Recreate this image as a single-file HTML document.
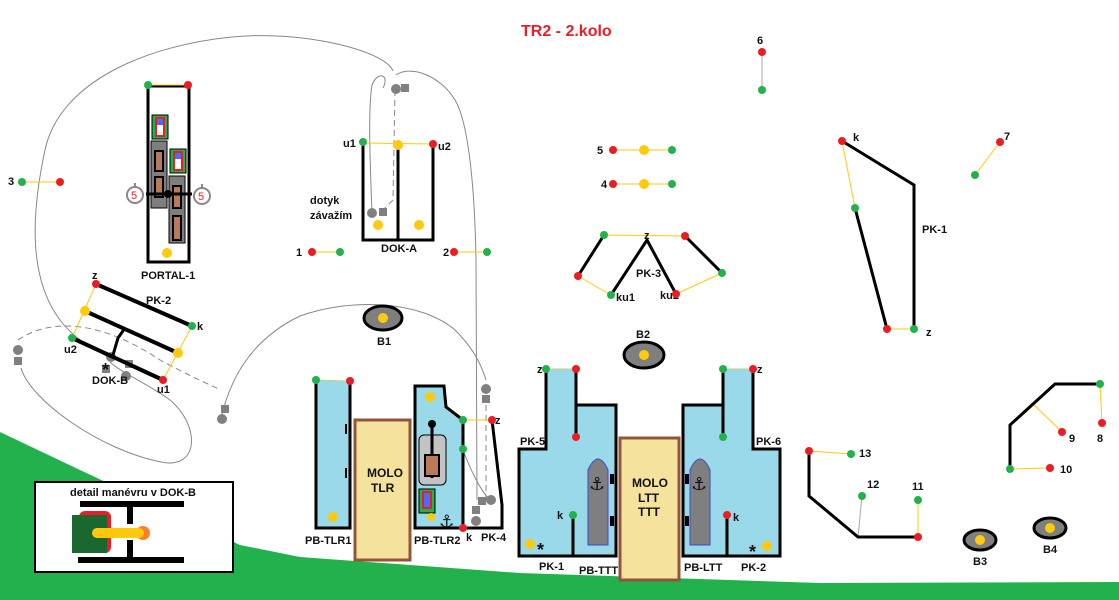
<!DOCTYPE html>
<html><head><meta charset="utf-8"><style>
html,body{margin:0;padding:0;background:#fff}
svg{display:block;font-size:11px}
text{font-family:"Liberation Sans","DejaVu Sans",sans-serif;font-weight:bold;fill:#111}
</style></head><body>
<svg width="1119" height="600" viewBox="0 0 1119 600" xmlns="http://www.w3.org/2000/svg">
<polygon points="0,432 80,470 240,545 300,557 520,573 820,583 1119,582 1119,600 0,600" fill="#22b14c"/>
<!-- detail box -->
<rect x="35" y="482" width="198" height="90" fill="#fff" stroke="#000" stroke-width="2"/>
<text x="70" y="496" style="font-size:11px">detail manévru v DOK-B</text>
<rect x="80" y="501" width="104" height="6" fill="#000"/>
<rect x="78" y="557" width="106" height="6" fill="#000"/>
<rect x="127" y="504" width="6" height="20" fill="#000"/>
<rect x="127" y="540" width="6" height="20" fill="#000"/>
<rect x="79" y="511" width="32" height="42" rx="6" fill="#ed1c24"/>
<rect x="72" y="515" width="35" height="38" fill="#1a6830"/>
<circle cx="143" cy="533" r="7" fill="#ff7f27"/>
<rect x="92" y="528" width="52" height="10" rx="5" fill="#ffc90e"/>

<!-- gray curves -->
<g fill="none" stroke="#888" stroke-width="1">
<path d="M393,71 C385,50 300,30 232,37 C150,45 60,80 45,150 C30,220 30,280 60,320 C75,340 95,350 110,358"/>
<path d="M21,368 C30,400 100,450 161,462 C200,470 200,425 170,400 C150,385 120,372 110,362"/>
<path d="M18,340 C50,318 100,320 160,360 C190,376 210,385 221,390" stroke-dasharray="6,4"/>
<path d="M221,418 C230,380 250,340 300,316 C350,298 420,300 455,330 C470,345 480,360 486,380"/>
<path d="M396,75 C410,65 440,75 455,100 C470,125 475,200 476,260 L477,500"/>
<path d="M383,88 C390,75 378,70 372,85 C368,110 370,160 372,213"/>
<path d="M395,90 L393,200 L383,210" stroke-dasharray="6,4"/>
<path d="M486,395 L486,500" stroke-dasharray="6,4"/>
<path d="M428,395 L430,520"/>
<path d="M440,400 L450,515" stroke-dasharray="5,4"/>
<path d="M455,430 C470,470 480,490 490,500"/>
</g>
<g fill="#808080">
<circle cx="396" cy="89" r="5"/><rect x="401" y="84" width="8" height="8"/>
<circle cx="372" cy="213" r="5"/><rect x="379" y="208" width="8" height="8"/>
<circle cx="18" cy="350" r="5"/><rect x="14" y="357" width="8" height="8"/>
<circle cx="111" cy="357" r="5"/><rect x="102" y="365" width="8" height="8"/>
<circle cx="126" cy="376" r="5"/><rect x="125" y="360" width="8" height="8"/>
<circle cx="222" cy="419" r="5"/><rect x="221" y="405" width="8" height="8"/>
<circle cx="486" cy="389" r="5"/><rect x="482" y="395" width="8" height="8"/>
<circle cx="426" cy="413" r="5"/><rect x="432" y="410" width="8" height="8"/>
<circle cx="456" cy="430" r="5"/><circle cx="451" cy="442" r="5"/>
<circle cx="491" cy="500" r="5"/><rect x="478" y="497" width="8" height="8"/>
<circle cx="476" cy="521" r="5"/><rect x="472" y="506" width="8" height="8"/>
</g>

<text x="521" y="36" style="font-size:16px;fill:#ed1c24">TR2 - 2.kolo</text>

<!-- PORTAL-1 -->
<rect x="148" y="86" width="41" height="176" fill="none" stroke="#000" stroke-width="3"/>
<line x1="148" y1="85" x2="188" y2="85" stroke="#ffc90e"/>
<rect x="152" y="115" width="16" height="24" fill="#22b14c" stroke="#000"/>
<rect x="156" y="118" width="8" height="18" fill="#fff" stroke="#ed1c24" stroke-width="2"/>
<rect x="157" y="119" width="6" height="6" fill="#4a6cf7"/>
<rect x="151" y="141" width="16" height="67" fill="#7f7f7f" stroke="#000"/>
<rect x="155" y="151" width="8" height="20" fill="#b97a57" stroke="#000" stroke-width="2"/>
<rect x="155" y="177" width="8" height="20" fill="#b97a57" stroke="#000" stroke-width="2"/>
<rect x="170" y="149" width="16" height="24" fill="#22b14c" stroke="#000"/>
<rect x="174" y="152" width="8" height="18" fill="#fff" stroke="#ed1c24" stroke-width="2"/>
<rect x="175" y="153" width="6" height="6" fill="#4a6cf7"/>
<rect x="169" y="176" width="16" height="67" fill="#7f7f7f" stroke="#000"/>
<rect x="173" y="186" width="8" height="22" fill="#b97a57" stroke="#000" stroke-width="2"/>
<rect x="173" y="216" width="8" height="24" fill="#b97a57" stroke="#000" stroke-width="2"/>
<line x1="146" y1="194" x2="192" y2="194" stroke="#000" stroke-width="3"/>
<circle cx="168" cy="194" r="4"/>
<circle cx="135" cy="195" r="8" fill="#fff" stroke="#888" stroke-width="2"/><line x1="135" y1="183" x2="135" y2="187" stroke="#888" stroke-width="2"/>
<text x="131" y="199" style="fill:#ed1c24;font-weight:normal">5</text>
<circle cx="202" cy="196" r="8" fill="#fff" stroke="#888" stroke-width="2"/><line x1="202" y1="184" x2="202" y2="188" stroke="#888" stroke-width="2"/>
<text x="198" y="200" style="fill:#ed1c24;font-weight:normal">5</text>
<circle cx="167" cy="253" r="5" fill="#ffc90e"/>
<text x="141" y="279">PORTAL-1</text>

<!-- DOK-A -->
<line x1="363" y1="143" x2="433" y2="144" stroke="#ffc90e"/>
<path d="M363,143 V240 H433 V145 M398,148 V240" fill="none" stroke="#000" stroke-width="3"/>
<circle cx="378" cy="225" r="5" fill="#ffc90e"/><circle cx="419" cy="225" r="5" fill="#ffc90e"/>
<circle cx="398" cy="145" r="5" fill="#ffc90e"/>
<text x="343" y="147">u1</text><text x="438" y="150">u2</text>
<text x="310" y="204">dotyk</text><text x="310" y="219">závažím</text>
<text x="381" y="252">DOK-A</text>

<!-- PK-2 / DOK-B -->
<g stroke="#ffc90e"><line x1="96" y1="284" x2="72" y2="338"/><line x1="192" y1="326" x2="163" y2="380"/></g>
<g stroke="#000" stroke-width="4"><line x1="96" y1="284" x2="192" y2="326"/><line x1="85" y1="311" x2="178" y2="353"/><line x1="72" y1="338" x2="163" y2="380"/></g>
<polyline points="125,328 118,338 113,355" fill="none" stroke="#000" stroke-width="3"/>
<circle cx="85" cy="311" r="5" fill="#ffc90e"/><circle cx="178" cy="353" r="5" fill="#ffc90e"/>
<text x="92" y="279">z</text><text x="146" y="304">PK-2</text><text x="197" y="330">k</text>
<text x="64" y="353">u2</text><text x="157" y="393">u1</text>
<text x="102" y="376" style="font-size:18px">*</text><text x="92" y="384">DOK-B</text>

<!-- signals -->
<g stroke="#ffc90e">
<line x1="22" y1="182" x2="60" y2="182"/><line x1="312" y1="252" x2="340" y2="252"/><line x1="454" y1="252" x2="487" y2="252"/>
<line x1="613" y1="150" x2="672" y2="150"/><line x1="613" y1="184" x2="672" y2="184"/>
<line x1="975" y1="175" x2="1000" y2="142"/>
<line x1="604" y1="235" x2="685" y2="236"/><line x1="578" y1="276" x2="611" y2="295"/><line x1="722" y1="273" x2="676" y2="294"/>
<line x1="842" y1="141" x2="855" y2="208"/><line x1="887" y1="329" x2="914" y2="329"/>
<line x1="809" y1="451" x2="851" y2="454"/><line x1="918" y1="500" x2="918" y2="537"/>
<line x1="1033" y1="404" x2="1062" y2="432"/><line x1="1100" y1="384" x2="1102" y2="423"/><line x1="1010" y1="469" x2="1050" y2="468"/>
<line x1="316" y1="380" x2="350" y2="381"/><line x1="463" y1="420" x2="492" y2="420"/><line x1="463" y1="449" x2="463" y2="528"/>
<line x1="546" y1="369" x2="576" y2="369"/><line x1="576" y1="437" x2="573" y2="515"/>
<line x1="723" y1="369" x2="753" y2="369"/><line x1="723" y1="437" x2="727" y2="515"/>
</g>
<line x1="762" y1="52" x2="762" y2="90" stroke="#aaa"/>
<line x1="858" y1="537" x2="862" y2="496" stroke="#aaa"/>
<g stroke="#000" stroke-width="3" fill="none">
<polyline points="578,276 604,235"/><polyline points="611,295 647,240 676,294"/><polyline points="685,236 722,273"/>
<polyline points="842,141 914,185 914,329"/><polyline points="855,208 887,329"/>
<polyline points="809,451 809,496 858,537 918,537"/>
<polyline points="1100,384 1055,384 1010,425 1010,469"/>
</g>
<circle cx="644" cy="150" r="5" fill="#ffc90e"/><circle cx="644" cy="184" r="5" fill="#ffc90e"/>
<text x="757" y="44">6</text><text x="597" y="154">5</text><text x="601" y="188">4</text>
<text x="644" y="239">z</text><text x="636" y="277">PK-3</text><text x="616" y="301">ku1</text><text x="660" y="299">ku2</text>
<text x="853" y="141">k</text><text x="922" y="233">PK-1</text><text x="926" y="336">z</text><text x="1004" y="140">7</text>
<text x="8" y="185">3</text><text x="296" y="256">1</text><text x="443" y="256">2</text>
<text x="859" y="457">13</text><text x="867" y="488">12</text><text x="912" y="490">11</text>
<text x="1097" y="442">8</text><text x="1069" y="442">9</text><text x="1060" y="473">10</text>

<!-- buoys -->
<g fill="#7f7f7f" stroke="#000" stroke-width="3">
<ellipse cx="383" cy="318" rx="19" ry="12"/><ellipse cx="644" cy="355" rx="20" ry="13"/>
<ellipse cx="980" cy="540" rx="16" ry="10"/><ellipse cx="1050" cy="528" rx="16" ry="10"/>
</g>
<g fill="#ffc90e"><circle cx="383" cy="318" r="5"/><circle cx="644" cy="355" r="5"/><circle cx="980" cy="540" r="5"/><circle cx="1050" cy="528" r="5"/></g>
<text x="377" y="345">B1</text><text x="636" y="338">B2</text><text x="973" y="565">B3</text><text x="1043" y="553">B4</text>

<!-- lower basins -->
<path d="M316,380 V528 H350 V381" fill="#99d9ea" stroke="#000" stroke-width="3"/>
<rect x="345" y="424" width="2" height="10"/><rect x="345" y="468" width="2" height="10"/>
<circle cx="333" cy="517" r="5" fill="#ffc90e"/>
<rect x="355" y="420" width="55" height="140" fill="#f5e29c" stroke="#93553a" stroke-width="3"/>
<text x="367" y="477" style="font-size:12px">MOLO</text><text x="371" y="492" style="font-size:12px">TLR</text>
<path d="M463,420 L446,407 L444,386 H415 V528 H463 Z" fill="#99d9ea" stroke="#000" stroke-width="3"/>
<path d="M492,420 L502,505 V528 H463" fill="none" stroke="#000" stroke-width="3"/>
<circle cx="430" cy="397" r="5" fill="#ffc90e"/>
<rect x="419" y="435" width="27" height="50" rx="5" fill="#c3c3c3" stroke="#000"/>
<line x1="432" y1="424" x2="432" y2="478" stroke="#000" stroke-width="3"/><circle cx="432" cy="424" r="4"/>
<rect x="425" y="455" width="14" height="21" fill="#b97a57" stroke="#000" stroke-width="2"/>
<rect x="419" y="489" width="16" height="24" fill="#22b14c" stroke="#000"/>
<rect x="423" y="492" width="8" height="16" fill="#4a6cf7" stroke="#ed1c24" stroke-width="2"/>
<circle cx="431" cy="517" r="4" fill="#ffc90e"/>
<text x="439" y="527" style="font-size:17px;font-weight:normal">⚓</text>
<text x="305" y="544">PB-TLR1</text><text x="414" y="544">PB-TLR2</text><text x="466" y="541">k</text><text x="481" y="541">PK-4</text><text x="495" y="424">z</text>

<path d="M546,369 V449 H519 V556 H616 V405 H576 V369" fill="#99d9ea" stroke="#000" stroke-width="3"/>
<line x1="573" y1="515" x2="573" y2="556" stroke="#000" stroke-width="3"/>
<line x1="576" y1="369" x2="576" y2="437" stroke="#000" stroke-width="3"/>
<path d="M588,545 V470 Q598,448 608,470 V545 Z" fill="#7f7f7f" stroke="#3f48cc"/>
<text x="589" y="490" style="font-size:18px;font-weight:normal">⚓</text>
<rect x="610" y="474" width="4" height="10"/><rect x="610" y="516" width="4" height="10"/>
<circle cx="530" cy="544" r="5" fill="#ffc90e"/><text x="537" y="556" style="font-size:18px">*</text>
<rect x="620" y="438" width="59" height="142" fill="#f5e29c" stroke="#93553a" stroke-width="3"/>
<text x="632" y="487" style="font-size:12px">MOLO</text><text x="638" y="502" style="font-size:12px">LTT</text><text x="638" y="516" style="font-size:12px">TTT</text>
<path d="M753,369 V449 H780 V556 H683 V405 H723 V369" fill="#99d9ea" stroke="#000" stroke-width="3"/>
<line x1="727" y1="515" x2="727" y2="556" stroke="#000" stroke-width="3"/>
<line x1="723" y1="369" x2="723" y2="437" stroke="#000" stroke-width="3"/>
<path d="M690,545 V470 Q700,448 710,470 V545 Z" fill="#7f7f7f" stroke="#3f48cc"/>
<text x="691" y="490" style="font-size:18px;font-weight:normal">⚓</text>
<rect x="685" y="474" width="4" height="10"/><rect x="685" y="516" width="4" height="10"/>
<circle cx="767" cy="546" r="5" fill="#ffc90e"/><text x="749" y="558" style="font-size:18px">*</text>
<text x="537" y="373">z</text><text x="757" y="373">z</text>
<text x="520" y="445">PK-5</text><text x="756" y="445">PK-6</text>
<text x="557" y="519">k</text><text x="733" y="521">k</text>
<text x="539" y="570">PK-1</text><text x="579" y="574">PB-TTT</text><text x="684" y="571">PB-LTT</text><text x="741" y="571">PK-2</text>

<!-- dots -->
<g fill="#22b14c">
<circle cx="148" cy="85" r="4"/><circle cx="22" cy="182" r="4"/><circle cx="340" cy="252" r="4"/><circle cx="487" cy="252" r="4"/>
<circle cx="363" cy="142" r="4"/><circle cx="192" cy="326" r="4"/><circle cx="72" cy="338" r="4"/>
<circle cx="762" cy="90" r="4"/><circle cx="672" cy="150" r="4"/><circle cx="672" cy="184" r="4"/>
<circle cx="604" cy="235" r="4"/><circle cx="611" cy="295" r="4"/><circle cx="722" cy="273" r="4"/>
<circle cx="855" cy="208" r="4"/><circle cx="914" cy="329" r="4"/><circle cx="975" cy="175" r="4"/>
<circle cx="851" cy="454" r="4"/><circle cx="862" cy="496" r="4"/><circle cx="918" cy="500" r="4"/>
<circle cx="1100" cy="384" r="4"/><circle cx="1010" cy="469" r="4"/>
<circle cx="316" cy="380" r="4"/><circle cx="463" cy="420" r="4"/><circle cx="463" cy="449" r="4"/>
<circle cx="546" cy="369" r="4"/><circle cx="573" cy="515" r="4"/><circle cx="723" cy="369" r="4"/><circle cx="723" cy="437" r="4"/>
</g>
<g fill="#ed1c24">
<circle cx="188" cy="85" r="4"/><circle cx="60" cy="182" r="4"/><circle cx="312" cy="252" r="4"/><circle cx="454" cy="252" r="4"/>
<circle cx="433" cy="144" r="4"/><circle cx="96" cy="284" r="4"/><circle cx="163" cy="380" r="4"/>
<circle cx="762" cy="52" r="4"/><circle cx="613" cy="150" r="4"/><circle cx="613" cy="184" r="4"/>
<circle cx="578" cy="276" r="4"/><circle cx="685" cy="236" r="4"/><circle cx="676" cy="294" r="4"/>
<circle cx="842" cy="141" r="4"/><circle cx="887" cy="329" r="4"/><circle cx="1000" cy="142" r="4"/>
<circle cx="809" cy="451" r="4"/><circle cx="918" cy="537" r="4"/>
<circle cx="1102" cy="423" r="4"/><circle cx="1062" cy="432" r="4"/><circle cx="1050" cy="468" r="4"/>
<circle cx="350" cy="381" r="4"/><circle cx="492" cy="420" r="4"/><circle cx="463" cy="528" r="4"/>
<circle cx="576" cy="369" r="4"/><circle cx="576" cy="437" r="4"/><circle cx="753" cy="369" r="4"/><circle cx="727" cy="515" r="4"/>
</g>
</svg>
</body></html>
